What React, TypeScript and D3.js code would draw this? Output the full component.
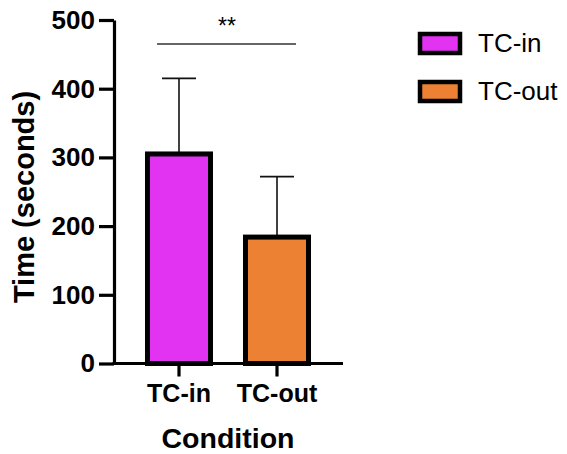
import React, { useEffect, useRef } from "react";
import * as d3 from "d3";

const categories = ["TC-in", "TC-out"];
const means = [305, 184];
const errors = [110, 88];
const colors = ["#E333F2", "#EC8133"];
const yTicks = [0, 100, 200, 300, 400, 500];
const significance = "**";

const App = () => {
  const svgRef = useRef<SVGSVGElement>(null);

  useEffect(() => {
    const svg = d3.select(svgRef.current);
    svg.selectAll("*").remove();
    const font = "'Liberation Sans', Arial, sans-serif";

    const y = d3.scaleLinear().domain([0, 500]).range([363.5, 20]);
    const x = d3
      .scaleBand()
      .domain(categories)
      .range([130, 326])
      .paddingInner(0.357)
      .paddingOuter(0.1785);

    const data = categories.map((c, i) => ({ cat: c, mean: means[i], err: errors[i], color: colors[i] }));

    // error bars (drawn first, bars cover the lower half)
    const eb = svg.append("g").attr("stroke", "#111").attr("stroke-width", 1.6);
    data.forEach((d) => {
      const cx = x(d.cat)! + x.bandwidth() / 2;
      eb.append("line").attr("x1", cx).attr("x2", cx).attr("y1", y(d.mean)).attr("y2", y(d.mean + d.err));
      eb.append("line")
        .attr("x1", cx - 17)
        .attr("x2", cx + 17)
        .attr("y1", y(d.mean + d.err))
        .attr("y2", y(d.mean + d.err));
    });

    // bars
    svg
      .append("g")
      .selectAll("rect")
      .data(data)
      .join("rect")
      .attr("x", (d) => x(d.cat)!)
      .attr("y", (d) => y(d.mean))
      .attr("width", x.bandwidth())
      .attr("height", (d) => y(0) - y(d.mean))
      .attr("fill", (d) => d.color)
      .attr("stroke", "#000")
      .attr("stroke-width", 5);

    // y axis
    const yAxis = svg
      .append("g")
      .attr("transform", "translate(114,0)")
      .call(d3.axisLeft(y).tickValues(yTicks).tickSize(15).tickPadding(4).tickSizeOuter(0));
    yAxis.select(".domain").attr("stroke", "#000").attr("stroke-width", 3.2);
    yAxis.selectAll(".tick line").attr("stroke", "#000").attr("stroke-width", 3.2);
    yAxis
      .selectAll(".tick text")
      .attr("fill", "#000")
      .attr("font-family", font)
      .attr("font-weight", "bold")
      .attr("font-size", 26);

    // x axis
    const xAxis = svg
      .append("g")
      .attr("transform", `translate(0,${y(0)})`)
      .call(d3.axisBottom(x).tickSize(13).tickPadding(8).tickSizeOuter(0));
    xAxis.select(".domain").attr("d", "M112.5,0H343").attr("stroke", "#000").attr("stroke-width", 3.2);
    xAxis.selectAll(".tick line").attr("stroke", "#000").attr("stroke-width", 3.2);
    xAxis
      .selectAll(".tick text")
      .attr("fill", "#000")
      .attr("font-family", font)
      .attr("font-weight", "bold")
      .attr("font-size", 25);

    // axis titles
    svg
      .append("text")
      .attr("x", 228)
      .attr("y", 448)
      .attr("text-anchor", "middle")
      .attr("font-family", font)
      .attr("font-weight", "bold")
      .attr("font-size", 28.5)
      .text("Condition");
    svg
      .append("text")
      .attr("transform", "translate(34,197) rotate(-90)")
      .attr("text-anchor", "middle")
      .attr("font-family", font)
      .attr("font-weight", "bold")
      .attr("font-size", 29)
      .text("Time (seconds)");

    // significance bracket
    svg
      .append("line")
      .attr("x1", 157)
      .attr("x2", 296)
      .attr("y1", 44)
      .attr("y2", 44)
      .attr("stroke", "#333")
      .attr("stroke-width", 1.6);
    svg
      .append("text")
      .attr("x", 227)
      .attr("y", 34)
      .attr("text-anchor", "middle")
      .attr("font-family", font)
      .attr("font-size", 23)
      .text(significance);

    // legend
    const legend = svg
      .append("g")
      .selectAll("g")
      .data(data)
      .join("g")
      .attr("transform", (d, i) => `translate(420,${34 + i * 48})`);
    legend
      .append("rect")
      .attr("width", 40)
      .attr("height", 19)
      .attr("fill", (d) => d.color)
      .attr("stroke", "#000")
      .attr("stroke-width", 4.5);
    legend
      .append("text")
      .attr("x", 58)
      .attr("y", 18)
      .attr("font-family", font)
      .attr("font-size", 26)
      .text((d) => d.cat);
  }, []);

  return (
    <svg
      ref={svgRef}
      width={567}
      height={454}
      style={{ position: "absolute", left: 0, top: 0, background: "#fff" }}
    />
  );
};

export default App;
